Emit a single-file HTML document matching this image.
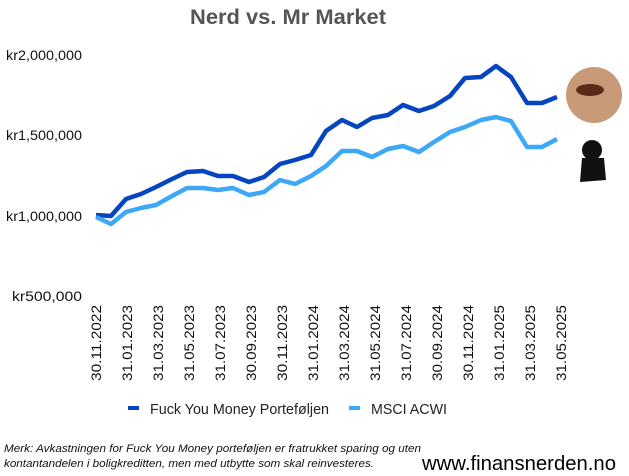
<!DOCTYPE html>
<html><head><meta charset="utf-8"><style>
body{margin:0;background:#fff;}
svg{display:block;font-family:"Liberation Sans",sans-serif;}
</style></head><body>
<svg width="629" height="476" viewBox="0 0 629 476">
<text x="288" y="24" font-size="21" font-weight="bold" fill="#555" text-anchor="middle" textLength="196" lengthAdjust="spacingAndGlyphs">Nerd vs. Mr Market</text>
<g font-size="14" fill="#111" text-anchor="end">
<text x="82" y="60" textLength="76" lengthAdjust="spacingAndGlyphs">kr2,000,000</text>
<text x="82" y="140" textLength="76" lengthAdjust="spacingAndGlyphs">kr1,500,000</text>
<text x="82" y="221" textLength="76" lengthAdjust="spacingAndGlyphs">kr1,000,000</text>
<text x="82" y="301" textLength="70" lengthAdjust="spacingAndGlyphs">kr500,000</text>
</g>
<polyline fill="none" stroke="#0645c0" stroke-width="4.5" stroke-linejoin="round" points="96,215 111,216 126,199 141,194 156,187 172,179 187,172 203,171 218,176 233,176 249,182 264,177 280,164 295,160 311,155 326,131 342,120 357,127 372,118 388,115 403,105 419,111 434,106 450,96 465,78 481,77 496,66 511,77 527,103 542,103 557,97"/>
<polyline fill="none" stroke="#3ea8f8" stroke-width="4.5" stroke-linejoin="round" points="96,217 111,224 126,212 141,208 156,205 172,196 187,188 203,188 218,190 233,188 249,195 264,192 280,180 295,184 311,176 326,166 342,151 357,151 372,157 388,149 403,146 419,152 434,142 450,132 465,127 481,120 496,117 511,121 527,147 542,147 557,139"/>
<circle cx="594" cy="95" r="28" fill="#c99a78"/>
<ellipse cx="590" cy="90" rx="14" ry="6" fill="#5a2a1a"/>
<g fill="#111"><circle cx="592" cy="150" r="10"/><path d="M582 158 L604 158 L606 180 L580 182 Z"/></g>
<g font-size="14" fill="#111" text-anchor="end">
<text transform="translate(101,305) rotate(-90)" textLength="76" lengthAdjust="spacingAndGlyphs">30.11.2022</text>
<text transform="translate(132,305) rotate(-90)" textLength="76" lengthAdjust="spacingAndGlyphs">31.01.2023</text>
<text transform="translate(163,305) rotate(-90)" textLength="76" lengthAdjust="spacingAndGlyphs">31.03.2023</text>
<text transform="translate(194,305) rotate(-90)" textLength="76" lengthAdjust="spacingAndGlyphs">31.05.2023</text>
<text transform="translate(225,305) rotate(-90)" textLength="76" lengthAdjust="spacingAndGlyphs">31.07.2023</text>
<text transform="translate(256,305) rotate(-90)" textLength="76" lengthAdjust="spacingAndGlyphs">30.09.2023</text>
<text transform="translate(287,305) rotate(-90)" textLength="76" lengthAdjust="spacingAndGlyphs">30.11.2023</text>
<text transform="translate(318,305) rotate(-90)" textLength="76" lengthAdjust="spacingAndGlyphs">31.01.2024</text>
<text transform="translate(349,305) rotate(-90)" textLength="76" lengthAdjust="spacingAndGlyphs">31.03.2024</text>
<text transform="translate(380,305) rotate(-90)" textLength="76" lengthAdjust="spacingAndGlyphs">31.05.2024</text>
<text transform="translate(411,305) rotate(-90)" textLength="76" lengthAdjust="spacingAndGlyphs">31.07.2024</text>
<text transform="translate(442,305) rotate(-90)" textLength="76" lengthAdjust="spacingAndGlyphs">30.09.2024</text>
<text transform="translate(473,305) rotate(-90)" textLength="76" lengthAdjust="spacingAndGlyphs">30.11.2024</text>
<text transform="translate(504,305) rotate(-90)" textLength="76" lengthAdjust="spacingAndGlyphs">31.01.2025</text>
<text transform="translate(535,305) rotate(-90)" textLength="76" lengthAdjust="spacingAndGlyphs">31.03.2025</text>
<text transform="translate(566,305) rotate(-90)" textLength="76" lengthAdjust="spacingAndGlyphs">31.05.2025</text>
</g>
<rect x="128" y="406" width="11" height="4" fill="#0645c0"/>
<text x="150" y="414" font-size="15" fill="#222" textLength="179" lengthAdjust="spacingAndGlyphs">Fuck You Money Porteføljen</text>
<rect x="349" y="406" width="11" height="4" fill="#3ea8f8"/>
<text x="371" y="414" font-size="15" fill="#222" textLength="76" lengthAdjust="spacingAndGlyphs">MSCI ACWI</text>
<g font-size="11" font-style="italic" fill="#111">
<text x="4" y="452" textLength="417" lengthAdjust="spacingAndGlyphs">Merk: Avkastningen for Fuck You Money porteføljen er fratrukket sparing og uten</text>
<text x="4" y="467" textLength="370" lengthAdjust="spacingAndGlyphs">kontantandelen i boligkreditten, men med utbytte som skal reinvesteres.</text>
</g>
<text x="422" y="470" font-size="20" fill="#000" textLength="194" lengthAdjust="spacingAndGlyphs">www.finansnerden.no</text>
</svg>
</body></html>
